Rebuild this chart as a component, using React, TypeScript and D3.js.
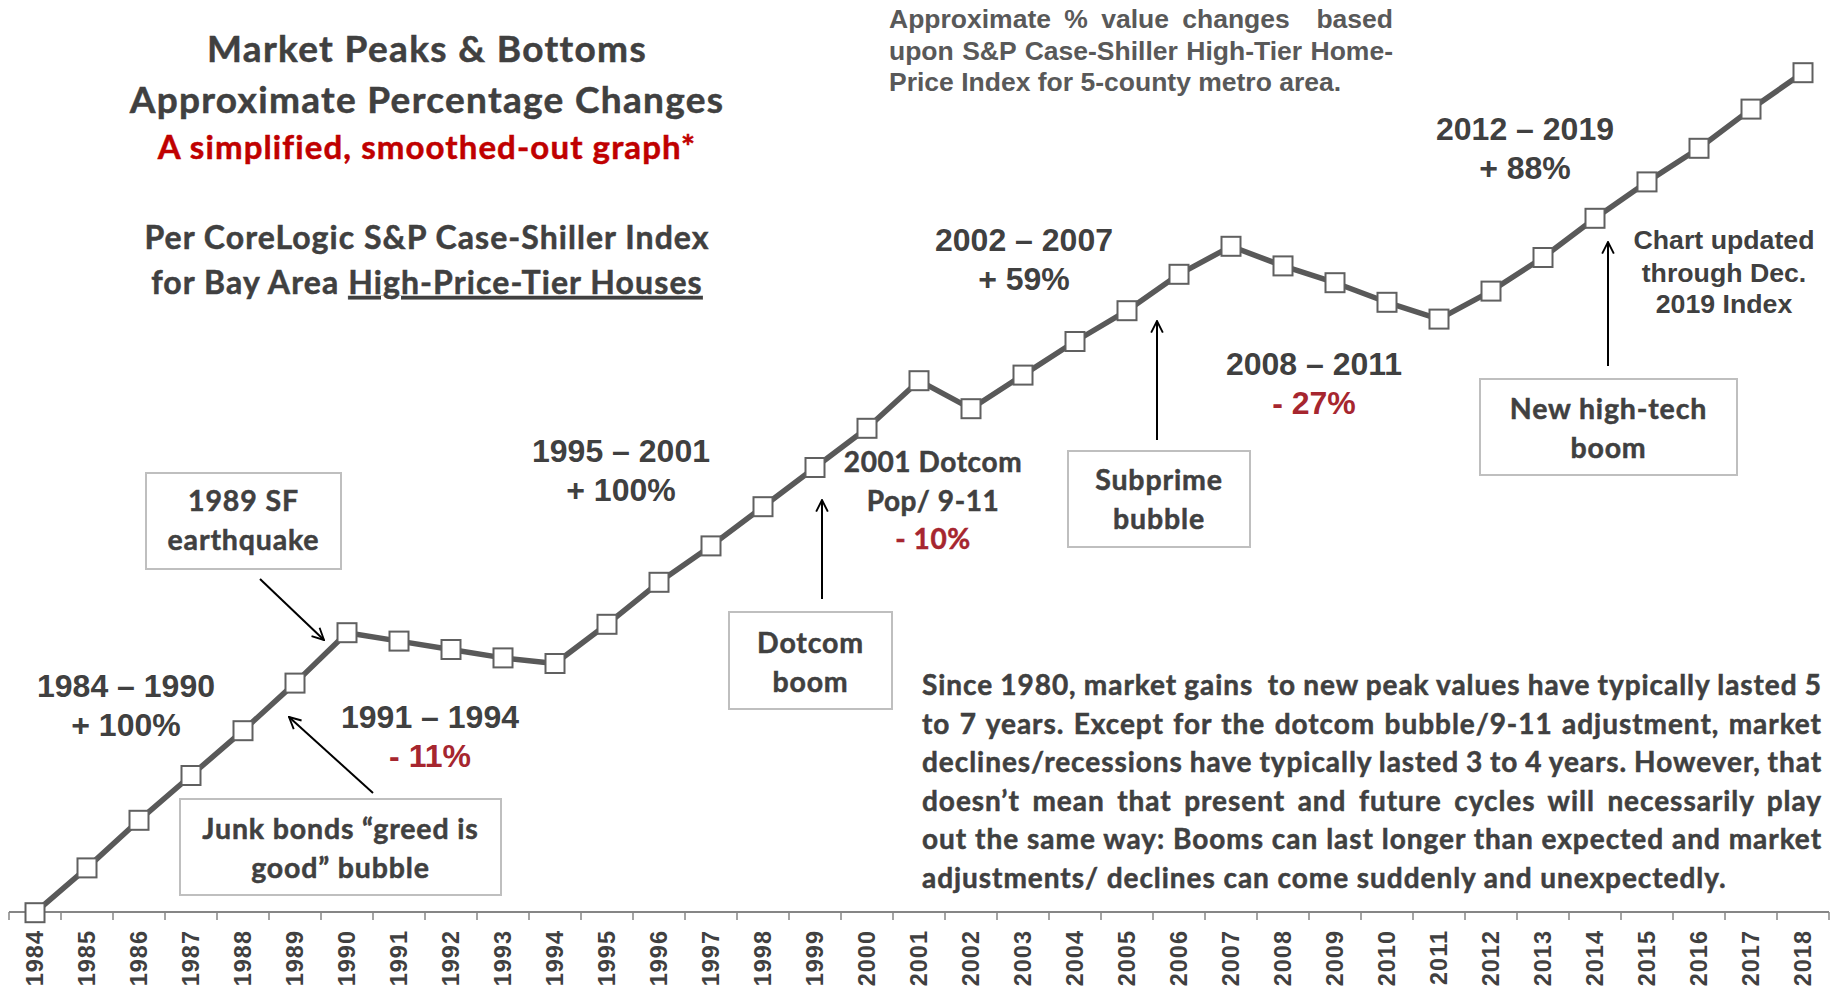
import { useLayoutEffect, useRef, useState } from "react";
import * as d3 from "d3";

// Years on the category axis
const years = [
  "1984", "1985", "1986", "1987", "1988", "1989", "1990", "1991", "1992", "1993",
  "1994", "1995", "1996", "1997", "1998", "1999", "2000", "2001", "2002", "2003",
  "2004", "2005", "2006", "2007", "2008", "2009", "2010", "2011", "2012", "2013",
  "2014", "2015", "2016", "2017", "2018",
];

// smoothed index, 1984 = 100
const indexValues = [
  100, 116, 133, 149, 165, 182, 200, 197, 194, 191,
  189, 203, 218, 231, 245, 259, 273, 290, 280, 292,
  304, 315, 328, 338, 331, 325, 318, 312, 322, 334,
  348, 361, 373, 387, 400,
];

const periodRanges = ["1984 – 1990", "1991 – 1994", "1995 – 2001", "2002 – 2007", "2008 – 2011", "2012 – 2019"];
const periodChanges = ["+ 100%", "- 11%", "+ 100%", "+ 59%", "- 27%", "+ 88%"];

const boxTexts = [
  ["1989 SF", "earthquake"],
  ["Junk bonds \u201cgreed is", "good\u201d bubble"],
  ["Dotcom", "boom"],
  ["Subprime", "bubble"],
  ["New high-tech", "boom"],
];

const noteLines = [
  "Approximate % value changes  based",
  "upon S&P Case-Shiller High-Tier Home-",
  "Price Index for 5-county metro area.",
];

const paragraphLines = [
  "Since 1980, market gains  to new peak values have typically lasted 5",
  "to 7 years. Except for the dotcom bubble/9-11 adjustment, market",
  "declines/recessions have typically lasted 3 to 4 years. However, that",
  "doesn\u2019t mean that present and future cycles will necessarily play",
  "out the same way: Booms can last longer than expected and market",
  "adjustments/ declines can come suddenly and unexpectedly.",
];

const W = 1835;
const H = 991;
const CAL = "Lato, 'Noto Sans', sans-serif";
const ARIAL = "'Liberation Sans', Arial, sans-serif";
const DARK = "#404040";
const RED = "#a6262f";
// Lato bold is a bit light next to Calibri bold, so thicken it a touch
const heavy = { stroke: "currentColor", strokeWidth: 0.5 };

// text line stretched to a width by widening the word gaps
function JustifiedLine({ x, y, width, text, justify, style }: any) {
  const ref = useRef<SVGTextElement>(null);
  const [ws, setWs] = useState(0);
  useLayoutEffect(() => {
    if (!justify || !ref.current) return;
    ref.current.style.wordSpacing = "0px";
    const natural = ref.current.getComputedTextLength();
    const gaps = (text.match(/ /g) || []).length;
    if (gaps) setWs((width - natural) / gaps);
  }, [text, width, justify]);
  return (
    <text ref={ref} x={x} y={y} style={{ ...style, wordSpacing: `${ws}px`, whiteSpace: "pre" }}>
      {text}
    </text>
  );
}

function Box({ x, y, w, h, lines, base }: any) {
  return (
    <g>
      <rect x={x} y={y} width={w} height={h} fill="#fff" stroke="#bfbfbf" strokeWidth={2} />
      {lines.map((t: string, i: number) => (
        <text key={i} x={x + w / 2} y={base + i * 38.5} textAnchor="middle"
          style={{ font: `bold 28.5px ${CAL}`, fill: DARK, color: DARK, letterSpacing: "0.85px", ...heavy }}>{t}</text>
      ))}
    </g>
  );
}

export default function App() {
  const xScale = d3.scaleBand().domain(years).range([9, 1829]);
  const yScale = d3.scaleLinear().domain([100, 400]).range([912.7, 72.7]);
  const cx = (d: string) => (xScale(d) as number) + xScale.bandwidth() / 2;
  const axisY = 912;

  const line = d3.line<number>()
    .x((_, i) => cx(years[i]))
    .y((d) => yScale(d));

  const tickXs = years.map((d) => xScale(d) as number).concat([xScale.range()[1]]);

  const rangeStyle = { font: `bold 32px ${ARIAL}`, fill: DARK };
  const pctStyle = (neg: boolean) => ({ font: `bold 32px ${ARIAL}`, fill: neg ? RED : DARK });
  const periodPos = [
    [126, 697], [430, 728], [621, 462], [1024, 251], [1314, 375], [1525, 140],
  ];

  return (
    <svg width={W} height={H} style={{ position: "absolute", left: 0, top: 0, background: "#fff" }}>
      <defs>
        <marker id="arr" viewBox="0 0 12 12" refX="11" refY="6" markerWidth="14" markerHeight="14"
          markerUnits="userSpaceOnUse" orient="auto">
          <path d="M1,1 L11,6 L1,11" fill="none" stroke="#000" strokeWidth={1.6} />
        </marker>
      </defs>

      {/* title block */}
      <g style={{ fill: DARK, color: DARK, fontFamily: CAL, fontWeight: 700, ...heavy }} textAnchor="middle">
        <text x={427} y={62} fontSize={37} letterSpacing={1.35}>Market Peaks &amp; Bottoms</text>
        <text x={427} y={113} fontSize={37} letterSpacing={1.3}>Approximate Percentage Changes</text>
        <text x={427} y={159} fontSize={33} letterSpacing={1.1} style={{ fill: "#c00000", color: "#c00000" }}>
          A simplified, smoothed-out graph*
        </text>
        <text x={427} y={249} fontSize={32} letterSpacing={1.05}>Per CoreLogic S&amp;P Case-Shiller Index</text>
        <text x={427} y={294} fontSize={32} letterSpacing={1.1}>
          for Bay Area <tspan style={{ textDecoration: "underline" }}>High-Price-Tier Houses</tspan>
        </text>
      </g>

      {/* top note */}
      {noteLines.map((t, i) => (
        <JustifiedLine key={i} x={889} y={28 + i * 31.5} width={504} text={t} justify={i < 2}
          style={{ font: `bold 26.5px ${ARIAL}`, fill: "#595959" }} />
      ))}

      {/* x axis */}
      <line x1={9} x2={1829} y1={axisY} y2={axisY} stroke="#868686" strokeWidth={2} />
      {tickXs.map((t, i) => (
        <line key={i} x1={t} x2={t} y1={axisY} y2={axisY + 8} stroke="#868686" strokeWidth={1.5} />
      ))}
      {years.map((d) => (
        <text key={d} transform={`translate(${cx(d)},930) rotate(-90)`} textAnchor="end" dy="0.36em"
          style={{ font: `bold 23.5px ${ARIAL}`, fill: DARK, letterSpacing: "1px" }}>{d}</text>
      ))}

      {/* series */}
      <path d={line(indexValues) || ""} fill="none" stroke="#595959" strokeWidth={5.5} strokeLinejoin="round" />
      {indexValues.map((v, i) => (
        <rect key={i} x={cx(years[i]) - 9.5} y={yScale(v) - 9.5} width={19} height={19}
          fill="#fff" stroke="#606060" strokeWidth={2} />
      ))}

      {/* period labels */}
      {periodRanges.map((r, i) => (
        <g key={r} textAnchor="middle">
          <text x={periodPos[i][0]} y={periodPos[i][1]} style={rangeStyle}>{r}</text>
          <text x={periodPos[i][0]} y={periodPos[i][1] + 38.5} style={pctStyle(periodChanges[i].startsWith("-"))}>
            {periodChanges[i]}
          </text>
        </g>
      ))}

      {/* dotcom pop */}
      <g textAnchor="middle" style={{ font: `bold 28px ${CAL}`, fill: DARK, color: DARK, letterSpacing: "0.6px", ...heavy }}>
        <text x={933} y={472}>2001 Dotcom</text>
        <text x={933} y={511}>Pop/ 9-11</text>
        <text x={933} y={549} style={{ fill: RED, color: RED }}>- 10%</text>
      </g>

      {/* update note */}
      <g textAnchor="middle" style={{ font: `bold 26.7px ${ARIAL}`, fill: DARK }}>
        <text x={1724} y={249}>Chart updated</text>
        <text x={1724} y={282}>through Dec.</text>
        <text x={1724} y={313}>2019 Index</text>
      </g>

      {/* boxes */}
      <Box x={146} y={473} w={195} h={96} lines={boxTexts[0]} base={511} />
      <Box x={180} y={799} w={321} h={96} lines={boxTexts[1]} base={839} />
      <Box x={729} y={612} w={163} h={97} lines={boxTexts[2]} base={653} />
      <Box x={1068} y={451} w={182} h={96} lines={boxTexts[3]} base={490} />
      <Box x={1480} y={379} w={257} h={96} lines={boxTexts[4]} base={419} />

      {/* arrows */}
      <g stroke="#000" strokeWidth={2} markerEnd="url(#arr)">
        <line x1={260} y1={579} x2={324} y2={640} />
        <line x1={373} y1={793} x2={289} y2={717} />
        <line x1={822} y1={599} x2={822} y2={500} />
        <line x1={1157} y1={440} x2={1157} y2={321} />
        <line x1={1608} y1={366} x2={1608} y2={242} />
      </g>

      {/* paragraph */}
      {paragraphLines.map((t, i) => (
        <JustifiedLine key={i} x={922} y={695 + i * 38.5} width={900} text={t} justify={i < 5}
          style={{ font: `bold 28px ${CAL}`, fill: DARK, color: DARK, letterSpacing: "0.95px", ...heavy }} />
      ))}
    </svg>
  );
}
